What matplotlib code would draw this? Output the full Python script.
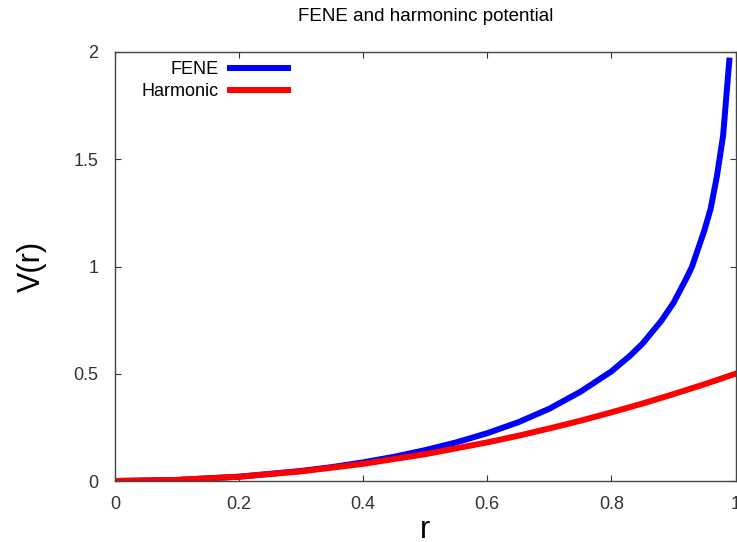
import matplotlib
matplotlib.use("Agg")
import matplotlib.pyplot as plt

plt.rcParams['font.family'] = ['Liberation Sans', 'DejaVu Sans']

# sampled values of the two bond potentials
r_fene = [0.0, 0.1, 0.2, 0.3, 0.35, 0.4, 0.45, 0.5, 0.55, 0.6, 0.65, 0.7, 0.75,
          0.8, 0.83, 0.85, 0.88, 0.9, 0.92, 0.93, 0.95, 0.96, 0.97, 0.98, 0.99]
v_fene = [0.0, 0.005, 0.020, 0.047, 0.065, 0.087, 0.113, 0.144, 0.180, 0.223,
          0.274, 0.337, 0.416, 0.511, 0.584, 0.640, 0.745, 0.830, 0.940, 1.00,
          1.17, 1.27, 1.42, 1.61, 1.96]

r_harm = [0.0, 0.1, 0.2, 0.3, 0.4, 0.5, 0.6, 0.65, 0.7, 0.75, 0.8, 0.85, 0.9,
          0.95, 1.0]
v_harm = [0.0, 0.005, 0.020, 0.045, 0.080, 0.125, 0.180, 0.211, 0.245, 0.281,
          0.320, 0.361, 0.405, 0.451, 0.500]

xticks = [0, 0.2, 0.4, 0.6, 0.8, 1]
xtick_labels = ["0", "0.2", "0.4", "0.6", "0.8", "1"]
yticks = [0, 0.5, 1, 1.5, 2]
ytick_labels = ["0", "0.5", "1", "1.5", "2"]

fig = plt.figure(figsize=(7.37, 5.42), dpi=100)
ax = fig.add_axes([115 / 737, 1 - 481 / 542, 620.5 / 737, 429 / 542])

ax.plot(r_fene, v_fene, color="#0000ff", lw=4.3, label="FENE")
ax.plot(r_harm, v_harm, color="#ff0000", lw=4.3, label="Harmonic")

ax.set_xlim(0, 1)
ax.set_ylim(0, 2)
ax.set_xticks(xticks)
ax.set_xticklabels(xtick_labels)
ax.set_yticks(yticks)
ax.set_yticklabels(ytick_labels)
ax.tick_params(direction="in", length=4, width=0.8, color="#333333",
               labelsize=13, labelcolor="#333333", top=True, right=True)
ax.tick_params(axis="x", pad=11)
ax.tick_params(axis="y", pad=12)
for s in ax.spines.values():
    s.set_color("#444444")
    s.set_linewidth(1.0)

ax.set_xlabel("r", fontsize=22, labelpad=1.5)
ax.set_ylabel("V(r)", fontsize=22, labelpad=19)
ax.set_title("FENE and harmoninc potential", fontsize=13.5, pad=22)

ax.legend(loc="upper right", bbox_to_anchor=((288 - 115) / 620.5, 0.978),
          markerfirst=False, frameon=False, fontsize=13, handlelength=3.2,
          handletextpad=0.65, labelspacing=0.25, borderpad=0, borderaxespad=0)

fig.savefig("out.png", dpi=100)
